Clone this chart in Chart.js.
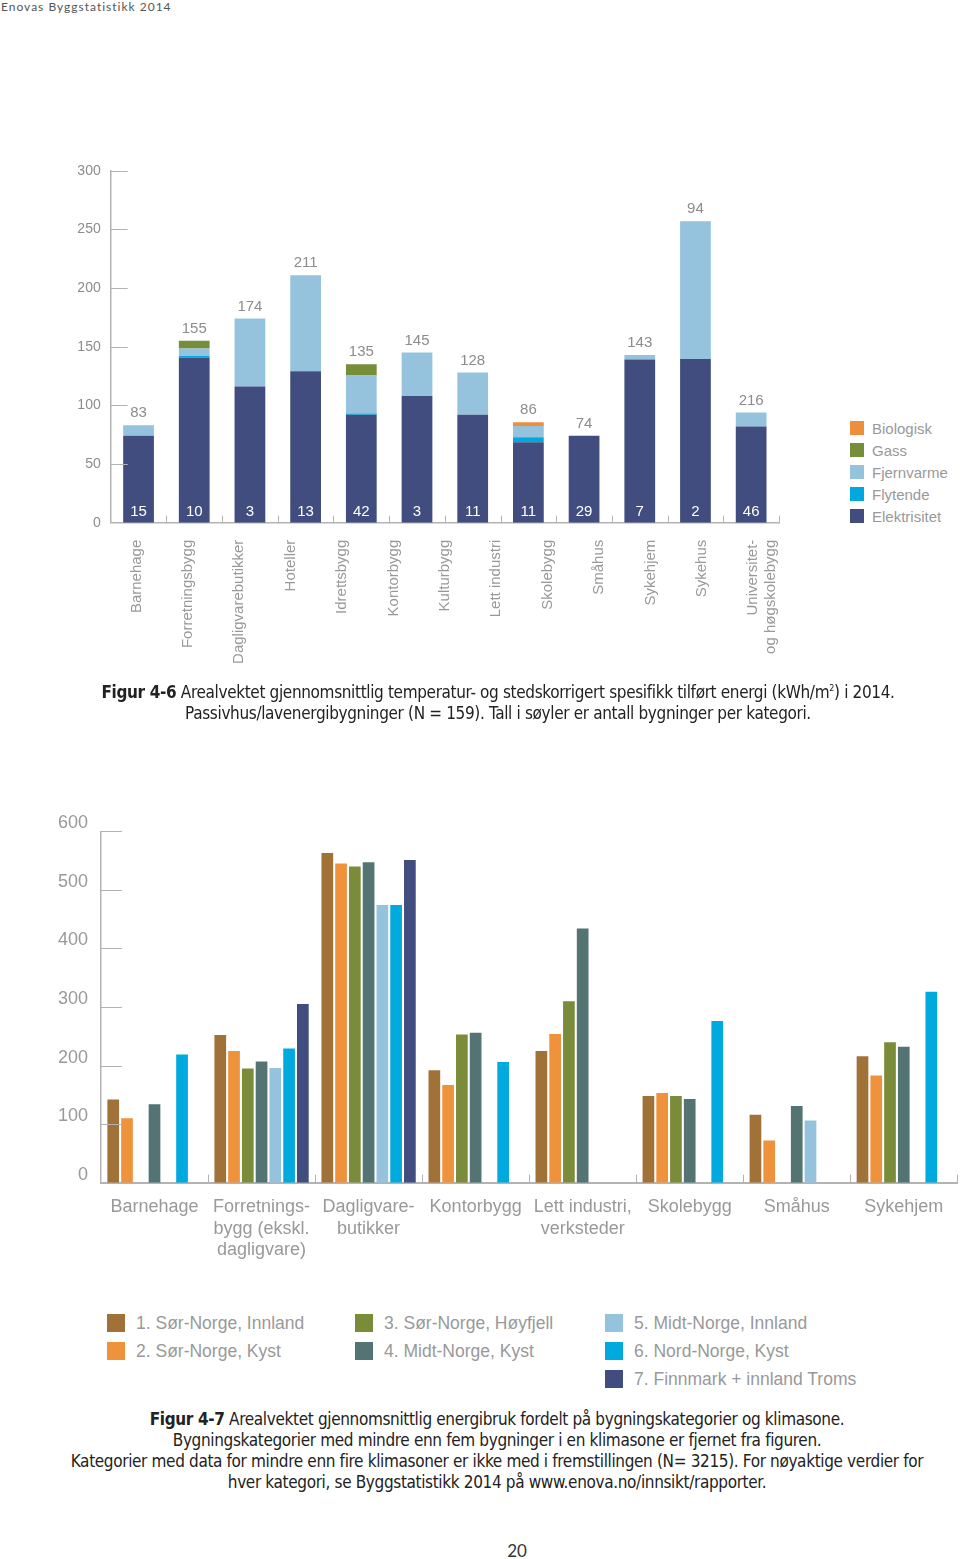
<!DOCTYPE html>
<html lang="no">
<head>
<meta charset="utf-8">
<title>Enovas Byggstatistikk 2014</title>
<script src="https://cdn.jsdelivr.net/npm/chart.js@4.4.1/dist/chart.umd.min.js"></script>
<style>
  html, body { margin: 0; padding: 0; background: #fff; }
  #page { position: relative; width: 960px; height: 1559px; overflow: hidden; font-family: 'Liberation Sans', Arial, sans-serif; }
  .abs { position: absolute; }
  #header { left: 1px; top: 0; font-family: Lato, 'Open Sans', sans-serif; font-size: 12px; letter-spacing: 1px; color: #555; line-height: 14px; }
  .caption { left: 0; width: 960px; text-align: center; font-family: 'Liberation Sans Narrow', 'DejaVu Sans Condensed', 'Liberation Sans', sans-serif; font-size: 17px; letter-spacing: -0.35px; line-height: 21px; color: #222; }
  .caption b { font-weight: bold; }
  #pageno { left: 497px; top: 1540px; width: 40px; text-align: center; font-family: Lato, sans-serif; font-size: 17px; color: #333; }
  .legend-item { position: absolute; display: flex; align-items: center; white-space: nowrap; }
  .legend-item span.sw { display: inline-block; flex: none; }
</style>
</head>
<body>
<div id="page">
  <div id="header" class="abs">Enovas Byggstatistikk 2014</div>

  <canvas id="chart1" class="abs" style="left:0;top:150px" width="800" height="530"></canvas>
  <div id="legend1"></div>

  <div class="abs caption" style="top:678px;left:18px"><b>Figur 4-6</b> Arealvektet gjennomsnittlig temperatur- og stedskorrigert spesifikk tilført energi (kWh/m<sup style="font-size:9px">2</sup>) i 2014.<br>Passivhus/lavenergibygninger (N = 159). Tall i søyler er antall bygninger per kategori.</div>

  <canvas id="chart2" class="abs" style="left:0;top:800px" width="960" height="480"></canvas>
  <div id="legend2"></div>

  <div class="abs caption" style="top:1409px;left:17px"><b>Figur 4-7</b> Arealvektet gjennomsnittlig energibruk fordelt på bygningskategorier og klimasone.<br>Bygningskategorier med mindre enn fem bygninger i en klimasone er fjernet fra figuren.<br>Kategorier med data for mindre enn fire klimasoner er ikke med i fremstillingen (N= 3215). For nøyaktige verdier for<br>hver kategori, se Byggstatistikk 2014 på www.enova.no/innsikt/rapporter.</div>

  <div id="pageno" class="abs">20</div>
</div>

<script>
// ---- Figur 4-6 ----
const buildingLabels = ['Barnehage', 'Forretningsbygg', 'Dagligvarebutikker', 'Hoteller', 'Idrettsbygg', 'Kontorbygg',
  'Kulturbygg', 'Lett industri', 'Skolebygg', 'Småhus', 'Sykehjem', 'Sykehus', ['Universitet-', 'og høgskolebygg']];
const totalLabels = ['83', '155', '174', '211', '135', '145', '128', '86', '74', '143', '94', '216'];
const buildingCounts = [15, 10, 3, 13, 42, 3, 11, 11, 29, 7, 2, 46];
const elektrisitet = [74, 140.5, 116, 129, 92, 108, 92, 68.5, 74, 139, 139.5, 82];
const flytende = [0, 1.5, 0, 0, 1, 0, 0, 4.3, 0, 0, 0, 0];
const fjernvarme = [9, 6.5, 58, 82, 32.5, 37, 36, 9.6, 0, 4, 117.5, 12];
const gass = [0, 6.5, 0, 0, 9.5, 0, 0, 0, 0, 0, 0, 0];
const biologisk = [0, 0, 0, 0, 0, 0, 0, 3.2, 0, 0, 0, 0];
const yTicks1 = [0, 50, 100, 150, 200, 250, 300];

// ---- Figur 4-7 ----
const categories2 = ['Barnehage', ['Forretnings-', 'bygg (ekskl.', 'dagligvare)'], ['Dagligvare-', 'butikker'], 'Kontorbygg',
  ['Lett industri,', 'verksteder'], 'Skolebygg', 'Småhus', 'Sykehjem'];
const zoneNames = ['1. Sør-Norge, Innland', '2. Sør-Norge, Kyst', '3. Sør-Norge, Høyfjell', '4. Midt-Norge, Kyst',
  '5. Midt-Norge, Innland', '6. Nord-Norge, Kyst', '7. Finnmark + innland Troms'];
const zone1 = [142, 252, 563, 192, 225, 148, 116, 216];
const zone2 = [110, 225, 545, 167, 254, 153, 72, 183];
const zone3 = [null, 195, 540, 253, 310, 148, null, 240];
const zone4 = [134, 207, 547, 256, 434, 143, 131, 232];
const zone5 = [null, 196, 474, null, null, null, 106, null];
const zone6 = [219, 229, 474, 206, null, 276, null, 326];
const zone7 = [null, 305, 551, null, null, null, null, null];
const yTicks2 = [0, 100, 200, 300, 400, 500, 600];

const FONT = "'Liberation Sans', Arial, sans-serif";
const AXIS = '#b3b3b3';

// short tick marks drawn inside the plot: y ticks to the right, category borders upward
const axisMarks = {
  id: 'axisMarks',
  afterDatasetsDraw(chart, args, opts) {
    const { ctx, chartArea, scales: { x, y } } = chart;
    ctx.save();
    ctx.strokeStyle = AXIS;
    ctx.lineWidth = 1;
    y.ticks.forEach(t => {
      if (t.value === 0) return;
      const py = Math.round(y.getPixelForValue(t.value)) + 0.5;
      ctx.beginPath();
      ctx.moveTo(chartArea.left, py);
      ctx.lineTo(chartArea.left + opts.yLen, py);
      ctx.stroke();
    });
    const n = x.getLabels().length;
    const half = (x.getPixelForValue(1) - x.getPixelForValue(0)) / 2;
    for (let i = 0; i < n; i++) {
      const px = Math.round(x.getPixelForValue(i) + half) + 0.5;
      ctx.beginPath();
      ctx.moveTo(px, chartArea.bottom);
      ctx.lineTo(px, chartArea.bottom - opts.xLen);
      ctx.stroke();
    }
    ctx.restore();
  }
};

// totals above each stack and building counts inside the bars
const stackLabels = {
  id: 'stackLabels',
  afterDatasetsDraw(chart) {
    const { ctx, scales: { x, y } } = chart;
    ctx.save();
    ctx.textAlign = 'center';
    ctx.textBaseline = 'middle';
    totalLabels.forEach((lbl, i) => {
      const sum = chart.data.datasets.reduce((s, d) => s + (d.data[i] || 0), 0);
      const px = x.getPixelForValue(i);
      ctx.font = '15px ' + FONT;
      ctx.fillStyle = '#8c8c8c';
      ctx.fillText(lbl, px, y.getPixelForValue(sum) - 12);
      ctx.fillStyle = '#ffffff';
      ctx.fillText(String(buildingCounts[i]), px, y.getPixelForValue(0) - 11);
    });
    ctx.restore();
  }
};

const series1 = [
  { label: 'Elektrisitet', data: elektrisitet, color: '#414d7e' },
  { label: 'Flytende', data: flytende, color: '#00a8df' },
  { label: 'Fjernvarme', data: fjernvarme, color: '#95c3de' },
  { label: 'Gass', data: gass, color: '#768d3a' },
  { label: 'Biologisk', data: biologisk, color: '#ee8e3b' }
];

new Chart(document.getElementById('chart1'), {
  type: 'bar',
  data: {
    labels: totalLabels,
    datasets: series1.map(s => ({
      label: s.label, data: s.data, backgroundColor: s.color,
      categoryPercentage: 1, barPercentage: 0.552, xAxisID: 'x'
    }))
  },
  options: {
    responsive: false,
    animation: false,
    devicePixelRatio: 1,
    layout: { padding: { top: 20.7, right: 21, bottom: 0, left: 0 } },
    plugins: { legend: { display: false }, tooltip: { enabled: false }, axisMarks: { yLen: 17, xLen: 7 } },
    scales: {
      x: {
        stacked: true, weight: 0,
        grid: { display: false, drawTicks: false },
        ticks: { display: false },
        border: { display: true, color: AXIS, width: 1.5 },
        afterFit: s => { s.height = 0; s.paddingLeft = 0; s.paddingRight = 0; }
      },
      x2: {
        type: 'category', labels: buildingLabels, position: 'bottom', weight: 1,
        grid: { display: false, drawTicks: false },
        border: { display: false },
        ticks: { minRotation: 90, maxRotation: 90, autoSkip: false, padding: 17, color: '#999', font: { size: 15, family: FONT } },
        afterFit: s => { s.height = 157.3; s.paddingLeft = 0; s.paddingRight = 0; }
      },
      y: {
        stacked: true, min: 0, max: 300,
        afterBuildTicks: s => { s.ticks = yTicks1.map(v => ({ value: v })); },
        grid: { display: false, drawTicks: false },
        border: { display: true, color: AXIS, width: 1.5 },
        ticks: { padding: 10, color: '#8c8c8c', font: { size: 14, family: FONT } },
        afterFit: s => { s.width = 110.7; s.paddingTop = 0; s.paddingBottom = 0; }
      }
    }
  },
  plugins: [axisMarks, stackLabels]
});

const series2 = [
  { data: zone1, color: '#a07238' },
  { data: zone2, color: '#ef923c' },
  { data: zone3, color: '#7a8c3a' },
  { data: zone4, color: '#537473' },
  { data: zone5, color: '#95c3de' },
  { data: zone6, color: '#00a9de' },
  { data: zone7, color: '#414d7e' }
];

new Chart(document.getElementById('chart2'), {
  type: 'bar',
  data: {
    labels: categories2,
    datasets: series2.map((s, i) => ({
      label: zoneNames[i], data: s.data, backgroundColor: s.color,
      categoryPercentage: 0.9, barPercentage: 0.85
    }))
  },
  options: {
    responsive: false,
    animation: false,
    devicePixelRatio: 1,
    layout: { padding: { top: 31.3, right: 2.7, bottom: 0, left: 0 } },
    plugins: { legend: { display: false }, tooltip: { enabled: false }, axisMarks: { yLen: 21, xLen: 8 } },
    scales: {
      x: {
        grid: { display: false, drawTicks: false },
        border: { display: true, color: AXIS, width: 2 },
        ticks: { autoSkip: false, maxRotation: 0, padding: 13.5, color: '#999', font: { size: 18, family: FONT, lineHeight: 1.2 } },
        afterFit: s => { s.height = 97.3; s.paddingLeft = 0; s.paddingRight = 0; }
      },
      y: {
        min: 0, max: 600,
        afterBuildTicks: s => { s.ticks = yTicks2.map(v => ({ value: v })); },
        grid: { display: false, drawTicks: false },
        border: { display: true, color: AXIS, width: 1.5 },
        ticks: { padding: 13, labelOffset: -8, color: '#999', font: { size: 18, family: FONT } },
        afterFit: s => { s.width = 101; s.paddingTop = 0; s.paddingBottom = 0; }
      }
    }
  },
  plugins: [axisMarks]
});

// legends as plain html
function legendItem(parent, left, top, color, text, sw, size, gap) {
  const el = document.createElement('div');
  el.className = 'legend-item';
  el.style.left = left + 'px';
  el.style.top = (top - 12) + 'px';
  el.style.height = '24px';
  el.style.fontSize = size + 'px';
  el.style.color = '#999';
  el.innerHTML = '<span class="sw" style="width:' + sw + 'px;height:' + sw + 'px;background:' + color + ';margin-right:' + gap + 'px"></span>' + text;
  parent.appendChild(el);
}

const legend1 = document.getElementById('legend1');
series1.slice().reverse().forEach((s, i) => {
  legendItem(legend1, 850, 428 + i * 22, s.color, s.label, 14, 15, 8);
});

const legend2 = document.getElementById('legend2');
const legendCols = [[0, 1], [2, 3], [4, 5, 6]];
const legendColX = [107, 355, 605];
legendCols.forEach((col, c) => {
  col.forEach((z, r) => {
    legendItem(legend2, legendColX[c], 1323 + r * 28, series2[z].color, zoneNames[z], 18, 17.5, 11);
  });
});
</script>
</body>
</html>
